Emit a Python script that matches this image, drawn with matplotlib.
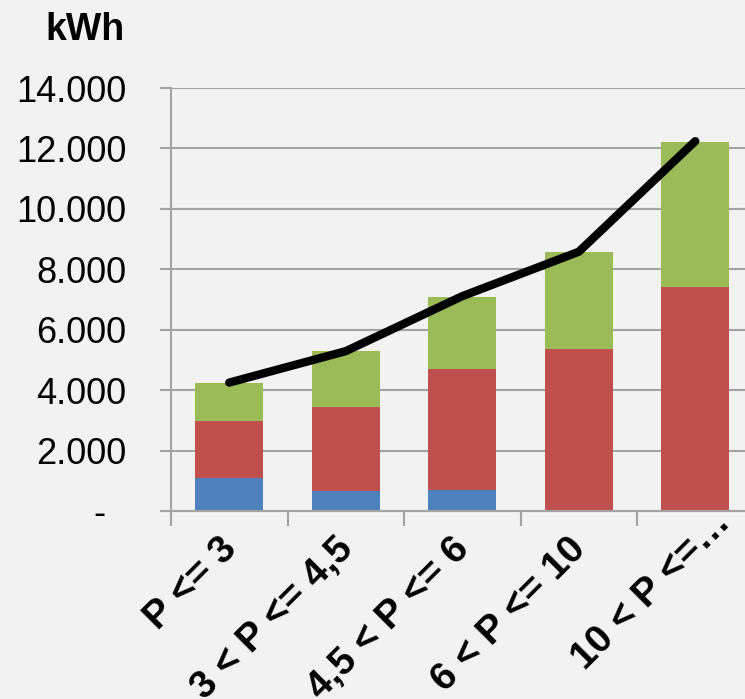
import matplotlib
matplotlib.use("Agg")
import matplotlib.pyplot as plt
import matplotlib.transforms as mtransforms
import numpy as np
from matplotlib.ticker import FixedLocator, FuncFormatter

plt.rcParams["font.family"] = ["Liberation Sans", "DejaVu Sans"]

# consumption per power band (kWh), stacked in three parts
categories = ["P <= 3", "3 < P <= 4,5", "4,5 < P <= 6", "6 < P <= 10", "10 < P <=…"]
blue_part = [1090, 650, 700, 0, 0]
red_part = [1900, 2800, 4010, 5370, 7430]
green_part = [1250, 1850, 2380, 3200, 4780]
line_total = [4250, 5290, 7110, 8580, 12240]

BG = "#f2f2f2"
GRID = "#a3a3a3"
colors = ["#4f81bd", "#c0504d", "#9bbb59"]

fig = plt.figure(figsize=(7.45, 6.99), dpi=100, facecolor=BG)
ax = fig.add_axes([171 / 745, 1 - 511 / 699, 582.5 / 745, 423 / 699], facecolor=BG)

x = np.arange(len(categories))
bottom = np.zeros(len(categories))
for vals, c in zip([blue_part, red_part, green_part], colors):
    ax.bar(x, vals, width=0.585, bottom=bottom, color=c, zorder=2)
    bottom += np.array(vals)

ax.plot(x, line_total, color="black", lw=6, solid_capstyle="round",
        solid_joinstyle="round", zorder=3)

ax.set_xlim(-0.5, len(categories) - 0.5)
ax.set_ylim(0, 14000)
ax.set_yticks(np.arange(0, 14001, 2000))
ax.yaxis.set_major_formatter(FuncFormatter(
    lambda v, p: "-\u00a0\u00a0" if v == 0 else f"{int(v):,}".replace(",", ".")))
ax.grid(axis="y", color=GRID, lw=1.5, zorder=0)

# ticks on the category boundaries, rotated labels under the centres
ax.xaxis.set_major_locator(FixedLocator(np.arange(-0.5, len(categories), 1.0)))
ax.xaxis.set_major_formatter(FuncFormatter(lambda v, p: ""))
ax.tick_params(axis="x", length=11, width=1.5, color=GRID)
ax.tick_params(axis="y", length=8, width=1.5, color=GRID, labelsize=26, pad=24)
trans = ax.get_xaxis_transform()
# the truncated last label sits further along its own direction
last_shift = mtransforms.ScaledTranslation(20 / 72, 19 / 72, fig.dpi_scale_trans)
for i, lab in zip(x, categories):
    tr = trans + last_shift if i == len(categories) - 1 else trans
    ax.text(i + 0.015, -0.077, lab, transform=tr, rotation=45, ha="right",
            va="center", rotation_mode="anchor", fontsize=28, fontweight="bold",
            clip_on=False)

for side in ["top", "right"]:
    ax.spines[side].set_visible(False)
for side in ["left", "bottom"]:
    ax.spines[side].set_color(GRID)
    ax.spines[side].set_linewidth(1.5)

fig.text(125 / 745, 1 - 30 / 699, "kWh", ha="right", va="center",
         fontsize=27, fontweight="bold")

fig.savefig("out.png", dpi=100, facecolor=BG)
